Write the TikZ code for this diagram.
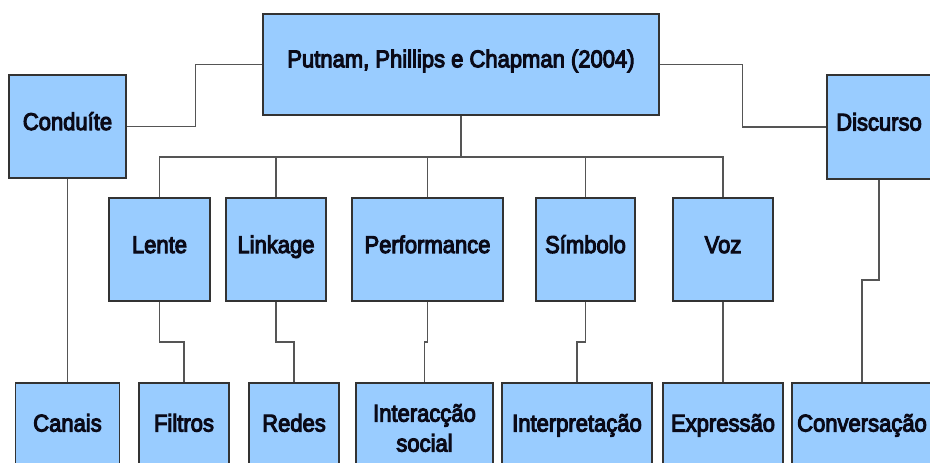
\documentclass[tikz,border=0pt]{standalone}
\usepackage{fontspec}
\setmainfont{Liberation Sans}[FakeBold=4.5]
\definecolor{boxfill}{HTML}{99CCFF}
\definecolor{boxline}{HTML}{333333}
\definecolor{connline}{HTML}{555555}
\definecolor{txt}{HTML}{0A0A18}
\newcommand\tallt[1]{\scalebox{1}[1.1]{#1}}
\begin{document}
\begin{tikzpicture}[x=1pt,y=-1pt,
  box/.style={draw=boxline, line width=1.4pt, fill=boxfill, inner sep=0pt,
    font=\fontsize{22}{30}\selectfont, text=txt},
  lbl/.style={box, text height=17pt, text depth=10pt},
  conn/.style={draw=connline, line width=1.3pt}]
\useasboundingbox (0,0) rectangle (930,463);
\clip (0,0) rectangle (930,463);
\fill[white] (0,0) rectangle (930,463);
% top row
\node[lbl, minimum width=396pt, minimum height=101pt, text depth=11.5pt] (top) at (461,64.5) {\tallt{Putnam, Phillips e Chapman (2004)}};
\node[lbl, minimum width=117pt, minimum height=103pt] (cond) at (67.5,126.5) {\tallt{Conduíte}};
\node[lbl, minimum width=104pt, minimum height=104pt] (disc) at (879,127) {\tallt{Discurso}};
% middle row
\node[lbl, minimum width=101pt, minimum height=103pt] (lente) at (159.5,249.5) {\tallt{Lente}};
\node[lbl, minimum width=100pt, minimum height=103pt] (link) at (276,249.5) {\tallt{Linkage}};
\node[lbl, minimum width=151pt, minimum height=103pt] (perf) at (427.5,249.5) {\tallt{Performance}};
\node[lbl, minimum width=99pt, minimum height=103pt] (simb) at (585.5,249.5) {\tallt{Símbolo}};
\node[lbl, minimum width=100pt, minimum height=103pt] (voz) at (723,249.5) {\tallt{Voz}};
% bottom row
\node[lbl, minimum width=104pt, minimum height=90pt] (canais) at (67.5,428) {\tallt{Canais}};
\node[lbl, minimum width=90pt, minimum height=90pt] (filtros) at (184,428) {\tallt{Filtros}};
\node[lbl, minimum width=90pt, minimum height=90pt] (redes) at (294,428) {\tallt{Redes}};
\node[box, align=center, minimum width=137pt, minimum height=90pt] (inter) at (424.5,428) {\tallt{Interacção}\\\tallt{social}};
\node[lbl, minimum width=150pt, minimum height=90pt] (interp) at (577,428) {\tallt{Interpretação}};
\node[lbl, minimum width=120pt, minimum height=90pt] (expr) at (723,428) {\tallt{Expressão}};
\node[lbl, minimum width=140pt, minimum height=90pt] (conv) at (862,428) {\tallt{Conversação}};
% helper levels
\coordinate (bar) at (0,157);
\coordinate (mid) at (0,342);
\coordinate (jog) at (0,280);
% connectors
\draw[conn] (cond.east) -- ++(69,0) |- (top.west);
\draw[conn] (top.east) -- ++(83,0) |- (disc.west);
\draw[conn] (top.south) -- (top.south |- bar);
\draw[conn] (lente.north) -- (lente.north |- bar) -- (voz.north |- bar) -- (voz.north);
\draw[conn] (link.north) -- (link.north |- bar);
\draw[conn] (perf.north) -- (perf.north |- bar);
\draw[conn] (simb.north) -- (simb.north |- bar);
\draw[conn] (cond.south) -- (canais.north);
\draw[conn] (lente.south) -- (lente.south |- mid) -- (filtros.north |- mid) -- (filtros.north);
\draw[conn] (link.south) -- (link.south |- mid) -- (redes.north |- mid) -- (redes.north);
\draw[conn] (perf.south) -- (perf.south |- mid) -- (inter.north |- mid) -- (inter.north);
\draw[conn] (simb.south) -- (simb.south |- mid) -- (interp.north |- mid) -- (interp.north);
\draw[conn] (voz.south) -- (expr.north);
\draw[conn] (disc.south) -- (disc.south |- jog) -- (conv.north |- jog) -- (conv.north);
\end{tikzpicture}
\end{document}
